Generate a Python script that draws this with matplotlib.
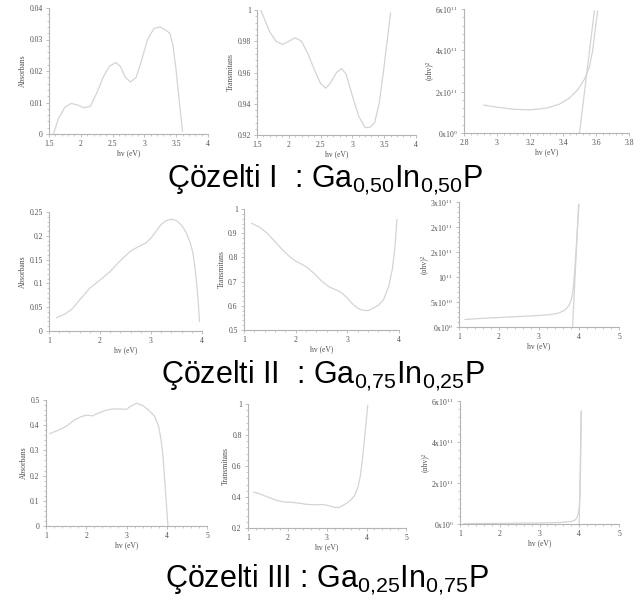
import numpy as np
import matplotlib
matplotlib.use("Agg")
import matplotlib.pyplot as plt
from matplotlib.ticker import AutoMinorLocator

plt.rcParams["font.family"] = ["Liberation Serif", "DejaVu Serif"]
plt.rcParams["mathtext.fontset"] = "custom"
plt.rcParams["mathtext.rm"] = "Liberation Serif"
plt.rcParams["mathtext.sf"] = "Liberation Sans"

# ---- data ----
# Cozelti I : Ga0.50 In0.50 P
abs1_x = [1.57, 1.65, 1.75, 1.85, 1.95, 2.05, 2.15, 2.25, 2.35, 2.45, 2.55, 2.62, 2.7,
          2.78, 2.87, 2.95, 3.05, 3.15, 3.25, 3.33, 3.4, 3.45, 3.5, 3.55, 3.6]
abs1_y = [0.0, 0.005, 0.0085, 0.0097, 0.0092, 0.0083, 0.0088, 0.013, 0.018, 0.0215,
          0.0227, 0.0215, 0.018, 0.0165, 0.018, 0.023, 0.030, 0.0335, 0.034, 0.033,
          0.032, 0.028, 0.02, 0.01, 0.001]
tr1_x = [1.56, 1.62, 1.7, 1.8, 1.9, 2.0, 2.1, 2.2, 2.3, 2.4, 2.5, 2.58, 2.65, 2.75, 2.83,
         2.9, 3.0, 3.1, 3.2, 3.28, 3.35, 3.42, 3.48, 3.54, 3.6]
tr1_y = [1.0, 0.994, 0.986, 0.980, 0.978, 0.980, 0.9822, 0.980, 0.972, 0.962, 0.953,
         0.950, 0.953, 0.960, 0.9625, 0.959, 0.945, 0.932, 0.9247, 0.925, 0.928, 0.940,
         0.958, 0.978, 0.998]
ah1_x = [2.92, 3.0, 3.1, 3.2, 3.3, 3.38, 3.44, 3.49, 3.53, 3.56, 3.58, 3.595, 3.61]
ah1_y = [1.35e11, 1.25e11, 1.15e11, 1.12e11, 1.2e11, 1.4e11, 1.7e11, 2.1e11, 2.6e11,
         3.2e11, 4.0e11, 5.0e11, 5.9e11]
fit1_x = [3.50, 3.59]
fit1_y = [0.0, 5.9e11]

# Cozelti II : Ga0.75 In0.25 P
abs2_x = [1.15, 1.3, 1.45, 1.6, 1.8, 2.0, 2.2, 2.4, 2.6, 2.75, 2.9, 3.0, 3.1, 3.2, 3.3,
          3.4, 3.5, 3.6, 3.7, 3.77, 3.82, 3.86, 3.9, 3.93, 3.95]
abs2_y = [0.028, 0.035, 0.046, 0.065, 0.09, 0.107, 0.125, 0.148, 0.168, 0.177, 0.185,
          0.195, 0.21, 0.224, 0.232, 0.235, 0.232, 0.222, 0.205, 0.185, 0.165, 0.135,
          0.095, 0.055, 0.02]
tr2_x = [1.15, 1.3, 1.45, 1.6, 1.75, 1.9, 2.0, 2.2, 2.35, 2.5, 2.65, 2.8, 2.9, 3.0, 3.1,
         3.2, 3.3, 3.4, 3.5, 3.6, 3.7, 3.8, 3.87, 3.92, 3.96]
tr2_y = [0.941, 0.925, 0.9, 0.865, 0.83, 0.8, 0.785, 0.762, 0.735, 0.703, 0.678, 0.664,
         0.652, 0.632, 0.608, 0.59, 0.582, 0.58, 0.59, 0.602, 0.625, 0.68, 0.75, 0.84,
         0.955]
ah2_x = [1.15, 1.5, 2.0, 2.5, 3.0, 3.3, 3.5, 3.65, 3.75, 3.82, 3.86, 3.9, 3.94, 3.97, 4.0]
ah2_y = [1.5e10, 1.7e10, 1.9e10, 2.1e10, 2.3e10, 2.5e10, 2.8e10, 3.4e10, 4.3e10,
         5.8e10, 8.0e10, 1.2e11, 1.7e11, 2.1e11, 2.45e11]
fit2_x = [3.84, 3.99]
fit2_y = [0.0, 2.45e11]

# Cozelti III : Ga0.25 In0.75 P
abs3_x = [1.1, 1.3, 1.5, 1.7, 1.85, 2.0, 2.15, 2.3, 2.5, 2.7, 2.85, 3.0, 3.1, 3.25, 3.4,
          3.55, 3.7, 3.8, 3.86, 3.9, 3.95, 3.99, 4.03]
abs3_y = [0.367, 0.38, 0.395, 0.42, 0.432, 0.44, 0.437, 0.448, 0.46, 0.465, 0.464, 0.463,
          0.475, 0.487, 0.478, 0.46, 0.435, 0.395, 0.34, 0.29, 0.18, 0.09, 0.0]
tr3_x = [1.14, 1.3, 1.5, 1.7, 1.9, 2.1, 2.3, 2.5, 2.7, 2.9, 3.0, 3.1, 3.2, 3.3, 3.4, 3.5,
         3.6, 3.7, 3.78, 3.84, 3.9, 3.95, 3.99, 4.03]
tr3_y = [0.432, 0.42, 0.4, 0.38, 0.368, 0.366, 0.36, 0.352, 0.35, 0.351, 0.347, 0.34,
         0.333, 0.332, 0.345, 0.36, 0.38, 0.41, 0.46, 0.53, 0.65, 0.78, 0.88, 0.99]
ah3_x = [1.1, 2.0, 3.0, 3.5, 3.8, 3.9, 3.95, 3.98, 4.0, 4.02, 4.03, 4.04, 4.05]
ah3_y = [2e9, 3e9, 5e9, 7e9, 1.2e10, 2e10, 3.5e10, 5.5e10, 8e10, 1.5e11, 2.5e11,
         4.0e11, 5.5e11]
fit3_x = [4.0, 4.05]
fit3_y = [0.0, 5.5e11]

titles = [r"Çözelti I  : Ga$_{\mathsf{0{,}50}}$In$_{\mathsf{0{,}50}}$P",
          r"Çözelti II  : Ga$_{\mathsf{0{,}75}}$In$_{\mathsf{0{,}25}}$P",
          r"Çözelti III : Ga$_{\mathsf{0{,}25}}$In$_{\mathsf{0{,}75}}$P"]

ah_ticks = [[0, 2e11, 4e11, 6e11],
            [0, 5e10, 1e11, 1.5e11, 2e11, 2.5e11],
            [0, 2e11, 4e11, 6e11]]
ah_labels = [[r"0x10$^{\mathrm{0}}$", r"2x10$^{\mathrm{11}}$", r"4x10$^{\mathrm{11}}$",
              r"6x10$^{\mathrm{11}}$"],
             [r"0x10$^{\mathrm{0}}$", r"5x10$^{\mathrm{10}}$", r"10$^{\mathrm{11}}$",
              r"2x10$^{\mathrm{11}}$", r"2x10$^{\mathrm{11}}$", r"3x10$^{\mathrm{11}}$"],
             [r"0x10$^{\mathrm{0}}$", r"2x10$^{\mathrm{11}}$", r"4x10$^{\mathrm{11}}$",
              r"6x10$^{\mathrm{11}}$"]]

W, H = 643, 600
LINE = "#d4d4d4"
AXC = "#b4b4b4"
TXT = "#505050"


def px_axes(fig, x0, y0, x1, y1):
    # pixel box (top-left origin) -> figure axes
    return fig.add_axes([x0 / W, 1 - y1 / H, (x1 - x0) / W, (y1 - y0) / H])


def style(ax, xlim, xticks, ylim, yticks, ylabel):
    ax.set_xlim(*xlim)
    ax.set_ylim(*ylim)
    ax.set_xticks(xticks)
    ax.set_yticks(yticks)
    ax.set_xticklabels([f"{t:g}" for t in xticks])
    ax.set_yticklabels([f"{t:g}" for t in yticks])
    ax.xaxis.set_minor_locator(AutoMinorLocator(5))
    ax.yaxis.set_minor_locator(AutoMinorLocator(5))
    for s in ("top", "right"):
        ax.spines[s].set_visible(False)
    for s in ("left", "bottom"):
        ax.spines[s].set_color(AXC)
        ax.spines[s].set_linewidth(0.8)
    ax.tick_params(which="major", length=2.5, width=0.6, color=AXC,
                   labelsize=5.5, labelcolor=TXT, pad=2)
    ax.tick_params(which="minor", length=1.3, width=0.5, color=AXC)
    ax.set_xlabel("hv (eV)", fontsize=5.5, color=TXT, labelpad=1)
    ax.set_ylabel(ylabel, fontsize=5.5, color=TXT, labelpad=2)
    ax.patch.set_alpha(0)


fig = plt.figure(figsize=(W / 100, H / 100), dpi=100)

# row 1
ax = px_axes(fig, 49, 8, 208, 134)
ax.plot(abs1_x, abs1_y, color=LINE, lw=0.9)
style(ax, (1.5, 4), [1.5, 2, 2.5, 3, 3.5, 4], (0, 0.04), [0, 0.01, 0.02, 0.03, 0.04],
      "Absorbans")
ax = px_axes(fig, 257, 10, 416, 135)
ax.plot(tr1_x, tr1_y, color=LINE, lw=0.9)
style(ax, (1.5, 4), [1.5, 2, 2.5, 3, 3.5, 4], (0.92, 1.0),
      [0.92, 0.94, 0.96, 0.98, 1.0], "Transmitans")
ax = px_axes(fig, 464, 9, 629, 133)
ax.plot(ah1_x, ah1_y, color=LINE, lw=0.9)
ax.plot(fit1_x, fit1_y, color=LINE, lw=0.9)
style(ax, (2.8, 3.8), [2.8, 3.0, 3.2, 3.4, 3.6, 3.8], (0, 6e11), ah_ticks[0], "(αhv)²")
ax.set_yticklabels(ah_labels[0])

# row 2
ax = px_axes(fig, 49, 212, 202, 331)
ax.plot(abs2_x, abs2_y, color=LINE, lw=0.9)
style(ax, (1, 4), [1, 2, 3, 4], (0, 0.25), [0, 0.05, 0.1, 0.15, 0.2, 0.25], "Absorbans")
ax = px_axes(fig, 244, 209, 399, 330)
ax.plot(tr2_x, tr2_y, color=LINE, lw=0.9)
style(ax, (1, 4), [1, 2, 3, 4], (0.5, 1.0), [0.5, 0.6, 0.7, 0.8, 0.9, 1.0], "Transmitans")
ax = px_axes(fig, 459, 202, 619, 327)
ax.plot(ah2_x, ah2_y, color=LINE, lw=0.9)
ax.plot(fit2_x, fit2_y, color=LINE, lw=0.9)
style(ax, (1, 5), [1, 2, 3, 4, 5], (0, 2.5e11), ah_ticks[1], "(αhv)²")
ax.set_yticklabels(ah_labels[1])

# row 3
ax = px_axes(fig, 46, 400, 207, 526)
ax.plot(abs3_x, abs3_y, color=LINE, lw=0.9)
style(ax, (1, 5), [1, 2, 3, 4, 5], (0, 0.5), [0, 0.1, 0.2, 0.3, 0.4, 0.5], "Absorbans")
ax = px_axes(fig, 248, 404, 406, 528)
ax.plot(tr3_x, tr3_y, color=LINE, lw=0.9)
style(ax, (1, 5), [1, 2, 3, 4, 5], (0.2, 1.0), [0.2, 0.4, 0.6, 0.8, 1.0], "Transmitans")
ax = px_axes(fig, 460, 401, 619, 524)
ax.plot(ah3_x, ah3_y, color=LINE, lw=0.9)
ax.plot(fit3_x, fit3_y, color=LINE, lw=0.9)
style(ax, (1, 5), [1, 2, 3, 4, 5], (0, 6e11), ah_ticks[2], "(αhv)²")
ax.set_yticklabels(ah_labels[2])

# section titles
for (cx, cy), t in zip([(325, 180), (323, 376), (327, 580)], titles):
    fig.text(cx / W, 1 - cy / H, t, ha="center", va="center", fontsize=22,
             family=["Liberation Sans", "DejaVu Sans"], color="black")

fig.savefig("out.png", dpi=100, facecolor="white")
